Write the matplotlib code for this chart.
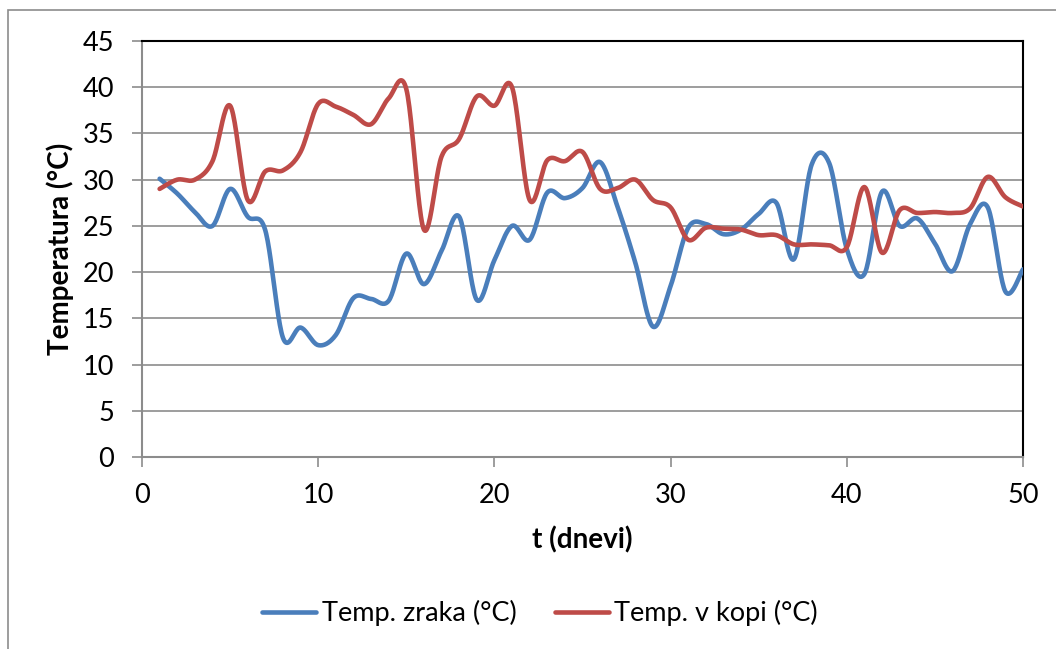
import numpy as np
import matplotlib.pyplot as plt
from matplotlib.patches import Rectangle

plt.rcParams['font.family'] = ['Lato', 'DejaVu Sans']

# podatki, odcitani z grafa
dnevi = list(range(1, 51))
temp_zraka = [30.1, 28.5, 26.5, 25.0, 29.0, 26.0, 24.5, 12.9, 14.0, 12.1,
              13.2, 17.2, 17.1, 16.9, 22.0, 18.7, 22.3, 26.0, 17.0, 21.3,
              25.0, 23.5, 28.6, 28.0, 29.1, 31.9, 27.0, 21.0, 14.1, 18.5,
              24.8, 25.2, 24.1, 24.6, 26.3, 27.5, 21.4, 31.6, 31.8, 22.5,
              19.8, 28.7, 25.0, 25.8, 23.1, 20.1, 25.2, 27.0, 17.9, 20.3]
temp_kopi = [29.0, 30.0, 30.0, 32.0, 38.0, 27.8, 30.9, 31.0, 33.0, 38.2,
             37.9, 37.0, 36.0, 38.8, 39.8, 24.6, 32.5, 34.4, 39.0, 38.0,
             40.0, 27.8, 32.1, 32.0, 33.0, 29.0, 29.1, 30.0, 27.8, 27.0,
             23.5, 24.8, 24.7, 24.6, 24.0, 24.0, 23.0, 23.0, 22.9, 22.7,
             29.2, 22.1, 26.7, 26.4, 26.5, 26.4, 26.9, 30.3, 28.1, 27.1]
oznake = ['Temp. zraka (°C)', 'Temp. v kopi (°C)']
barve = ['#4A7EBB', '#BE4B48']


def gladko(x, y, n=24):
    # Excel-like smoothing (Catmull-Rom as cubic Bezier)
    x = np.asarray(x, float)
    y = np.asarray(y, float)
    px = np.concatenate([[x[0]], x, [x[-1]]])
    py = np.concatenate([[y[0]], y, [y[-1]]])
    t = np.linspace(0, 1, n)[:, None]
    xs, ys = [], []
    for i in range(len(x) - 1):
        p0 = np.array([px[i], py[i]])
        p1 = np.array([px[i + 1], py[i + 1]])
        p2 = np.array([px[i + 2], py[i + 2]])
        p3 = np.array([px[i + 3], py[i + 3]])
        c1 = p1 + (p2 - p0) / 6
        c2 = p2 - (p3 - p1) / 6
        b = ((1 - t) ** 3) * p1 + 3 * ((1 - t) ** 2) * t * c1 + 3 * (1 - t) * t ** 2 * c2 + t ** 3 * p2
        xs.extend(b[:, 0])
        ys.extend(b[:, 1])
    return xs, ys


W, H = 1056, 649
fig = plt.figure(figsize=(W / 100, H / 100), dpi=100)
ax = fig.add_axes([142 / W, 1 - 457 / H, (1023 - 142) / W, (457 - 41) / H])

# chart area border (cropped on right/bottom)
fig.patches.append(Rectangle((8 / W, -0.1), 1.2, 1 - 10 / H + 0.1, transform=fig.transFigure,
                             fill=False, edgecolor='#8C8C8C', linewidth=1.2))

for serija, lab, c in zip([temp_zraka, temp_kopi], oznake, barve):
    xs, ys = gladko(dnevi, serija)
    ax.plot(xs, ys, color=c, linewidth=3.3, label=lab, solid_capstyle='round', zorder=3)

ax.set_xlim(0, 50)
ax.set_ylim(0, 45)
ax.set_xticks(range(0, 51, 10))
ax.set_yticks(range(0, 46, 5))
ax.yaxis.grid(True, color='#8C8C8C', linewidth=1.2)
ax.set_axisbelow(True)
for s in ['top', 'right']:
    ax.spines[s].set_color('black')
    ax.spines[s].set_linewidth(1.5)
for s in ['left', 'bottom']:
    ax.spines[s].set_color('#8C8C8C')
    ax.spines[s].set_linewidth(1.5)
ax.tick_params(axis='both', direction='out', length=7, width=1.2, color='#8C8C8C',
               labelsize=19.5, labelcolor='black')
ax.tick_params(axis='y', pad=13)
ax.tick_params(axis='x', pad=12)

ax.set_xlabel('t (dnevi)', fontsize=20, fontweight='bold', va='center')
ax.set_ylabel('Temperatura (°C)', fontsize=20, fontweight='bold', va='center')
ax.xaxis.set_label_coords((582 - 142) / 881, (457 - 540) / 416)
ax.yaxis.set_label_coords((60 - 142) / 881, 0.5)

fig.legend(loc='center', bbox_to_anchor=(540 / W, 1 - 613 / H), ncol=2, frameon=False,
           fontsize=19.5, handlelength=2.0, handletextpad=0.2, columnspacing=1.4)

fig.savefig('out.png', dpi=100)
